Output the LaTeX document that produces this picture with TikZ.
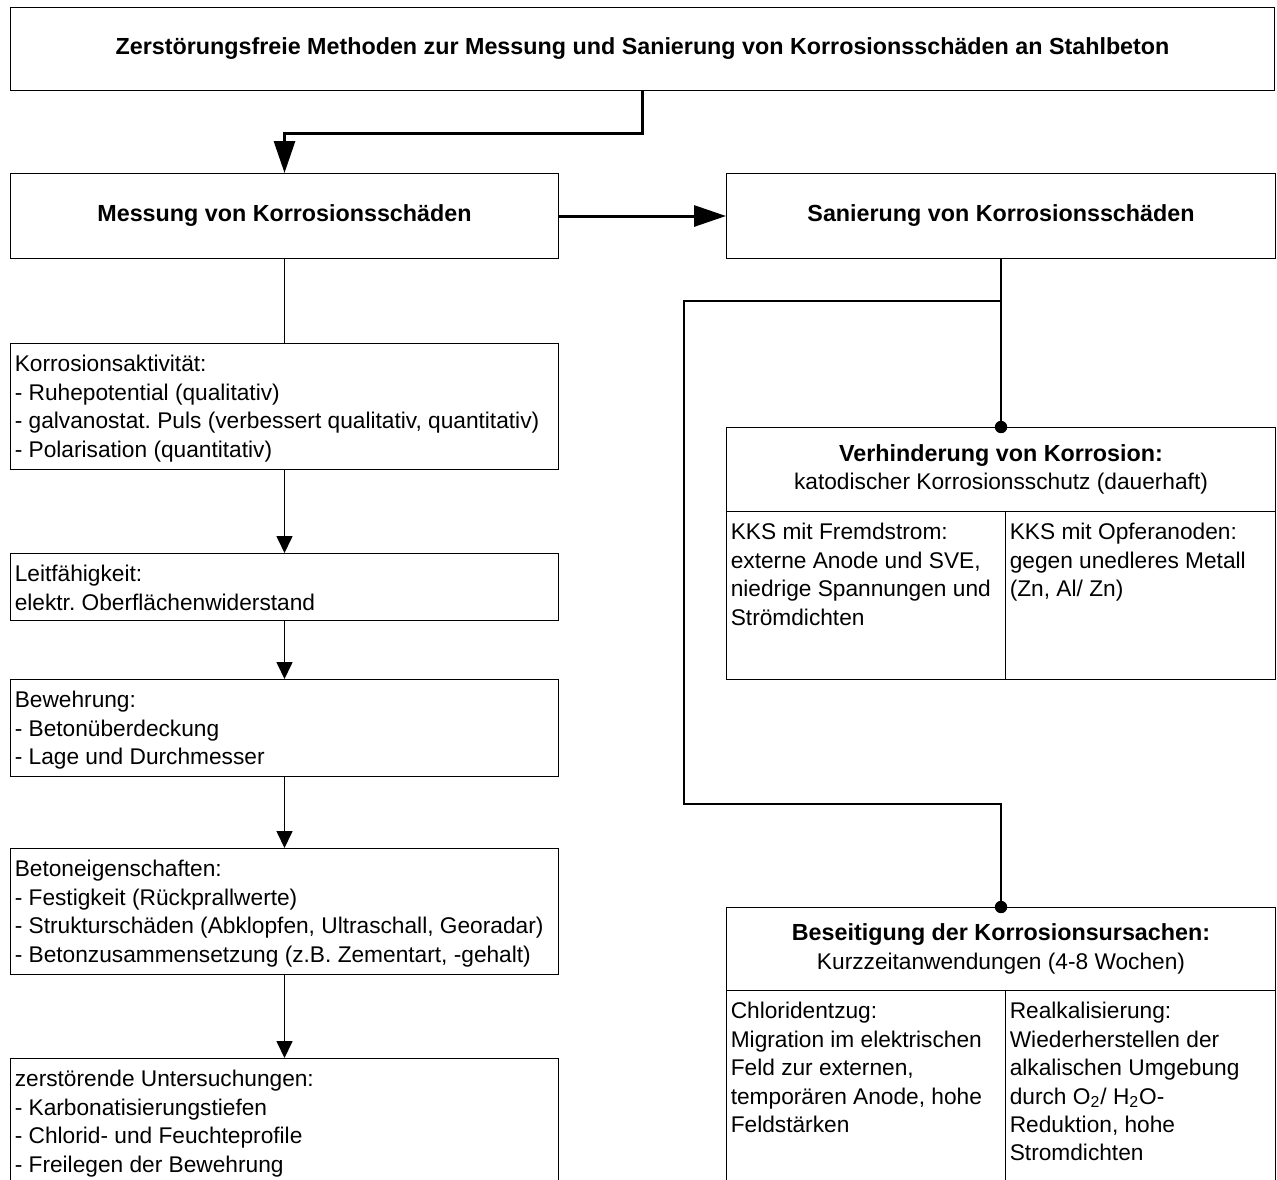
\documentclass[tikz,border=0pt]{standalone}
\usepackage{fontspec}
\setmainfont{Liberation Sans}
\usetikzlibrary{arrows.meta,calc}
\frenchspacing
\newcommand\normschrift{\fontsize{11.35pt}{14.2pt}\selectfont}
\newcommand\fettschrift{\fontsize{11.65pt}{14.2pt}\selectfont\bfseries}
\tikzset{
  bx/.style={draw,line width=0.5pt,inner sep=0pt,anchor=north west,align=center,font=\normschrift},
  wd/.style={minimum width=#1*0.5pt},
  ht/.style={minimum height=#1*0.5pt},
  tx/.style={anchor=north west,align=left,inner xsep=2.2pt,inner ysep=6pt,font=\normschrift},
  ln/.style={line width=0.8pt},
  ar/.style={ln,-{Triangle[length=8.5pt,width=8pt]}},
  dar/.style={line width=1.5pt,-{Triangle[length=16pt,width=10.5pt]}},
  punkt/.style={fill,circle,minimum size=6.2pt,inner sep=0pt}
}
\begin{document}
\begin{tikzpicture}[x=0.5pt,y=-0.5pt]
\useasboundingbox (0,0) rectangle (1277,1179);
\clip (0,0) rectangle (1277,1179);
% Kopf
\node[bx,wd=1264,ht=83] (titel) at (10,7) {\fettschrift Zerstörungsfreie Methoden zur Messung und Sanierung von Korrosionsschäden an Stahlbeton};
\node[bx,wd=548,ht=85] (mess) at (10,173) {\fettschrift Messung von Korrosionsschäden};
\node[bx,wd=549,ht=85] (san) at (726,173) {\fettschrift Sanierung von Korrosionsschäden};
\draw[dar] (titel.south) -- ++(0,42) -| (mess.north);
\draw[dar] (mess) -- (san);

% Messung
\node[bx,wd=548,ht=126] (korr) at (10,343) {};
\node[tx] (korrt) at (korr.north west) {Korrosionsaktivität:\\- Ruhepotential (qualitativ)\\- galvanostat. Puls (verbessert qualitativ, quantitativ)\\- Polarisation (quantitativ)};
\node[bx,wd=548,ht=67] (leit) at (10,553) {};
\node[tx] (leitt) at (leit.north west) {Leitfähigkeit:\\elektr. Oberflächenwiderstand};
\node[bx,wd=548,ht=97] (bew) at (10,679) {};
\node[tx] (bewt) at (bew.north west) {Bewehrung:\\- Betonüberdeckung\\- Lage und Durchmesser};
\node[bx,wd=548,ht=126] (beton) at (10,848) {};
\node[tx] (betont) at (beton.north west) {Betoneigenschaften:\\- Festigkeit (Rückprallwerte)\\- Strukturschäden (Abklopfen, Ultraschall, Georadar)\\- Betonzusammensetzung (z.B. Zementart, -gehalt)};
\node[bx,wd=548,ht=150] (zerst) at (10,1058) {};
\node[tx] (zerstt) at (zerst.north west) {zerstörende Untersuchungen:\\- Karbonatisierungstiefen\\- Chlorid- und Feuchteprofile\\- Freilegen der Bewehrung};
\draw[ln] (mess) -- (korr);
\draw[ar] (korr) -- (leit);
\draw[ar] (leit) -- (bew);
\draw[ar] (bew) -- (beton);
\draw[ar] (beton) -- (zerst);

% Sanierung
\node[bx,wd=549,ht=84] (verh) at (726,427) {{\fettschrift Verhinderung von Korrosion:}\\katodischer Korrosionsschutz (dauerhaft)};
\node[bx,wd=279,ht=168] (fremd) at (726,511) {};
\node[bx,wd=270,ht=168] (opfer) at (1005,511) {};
\node[tx] (fremdt) at (fremd.north west) {KKS mit Fremdstrom:\\externe Anode und SVE,\\niedrige Spannungen und\\Strömdichten};
\node[tx] (opfert) at (opfer.north west) {KKS mit Opferanoden:\\gegen unedleres Metall\\(Zn, Al/ Zn)};
\node[bx,wd=549,ht=83] (besk) at (726,907) {{\fettschrift Beseitigung der Korrosionsursachen:}\\Kurzzeitanwendungen (4-8 Wochen)};
\node[bx,wd=279,ht=230] (chlor) at (726,990) {};
\node[bx,wd=270,ht=230] (realk) at (1005,990) {};
\node[tx] (chlort) at (chlor.north west) {Chloridentzug:\\Migration im elektrischen\\Feld zur externen,\\temporären Anode, hohe\\Feldstärken};
\node[tx] (realkt) at (realk.north west) {Realkalisierung:\\Wiederherstellen der\\alkalischen Umgebung\\durch O\textsubscript{2}/ H\textsubscript{2}O-\\Reduktion, hohe\\Stromdichten};
\path (san.south) ++(0,42) coordinate (abzw);
\coordinate (umweg) at (684,804);
\draw[ln] (san) -- (verh);
\draw[ln] (abzw) -| (umweg) -| (besk.north);
\node[punkt] (punktv) at (verh.north) {};
\node[punkt] (punktb) at (besk.north) {};
\end{tikzpicture}
\end{document}
